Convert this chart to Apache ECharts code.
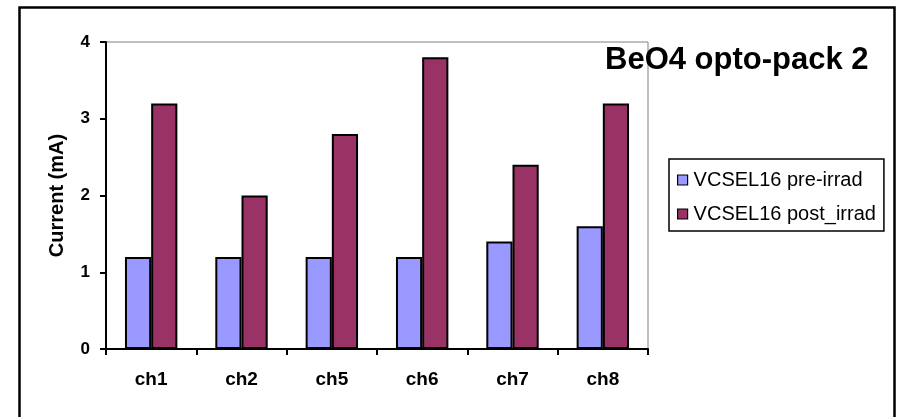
<!DOCTYPE html>
<html>
<head>
<meta charset="utf-8">
<script src="https://cdn.jsdelivr.net/npm/echarts@6/dist/echarts.min.js"></script>
<style>html,body{margin:0;padding:0;background:#fff}#c{width:898px;height:417px}</style>
</head>
<body>
<div id="c"></div>
<script>
const categories = ['ch1', 'ch2', 'ch5', 'ch6', 'ch7', 'ch8'];
const preIrrad = [1.2, 1.2, 1.2, 1.2, 1.4, 1.6];
const postIrrad = [3.2, 2.0, 2.8, 3.8, 2.4, 3.2];
const seriesNames = ['VCSEL16 pre-irrad', 'VCSEL16 post_irrad'];
const yTicks = { min: 0, max: 4, interval: 1 };
const titleText = 'BeO4 opto-pack 2';
const yAxisName = 'Current (mA)';

const FONT = 'Arial, "Liberation Sans", sans-serif';
const chart = echarts.init(document.getElementById('c'), null, { renderer: 'canvas' });
chart.setOption({
  animation: false,
  backgroundColor: '#fff',
  grid: { left: 106, right: 250, top: 42, bottom: 68, show: true, borderColor: '#808080', borderWidth: 1, backgroundColor: 'transparent' },
  legend: {
    orient: 'vertical', left: 669, top: 159,
    padding: [11, 8, 7, 8],
    itemGap: 14, itemWidth: 10, itemHeight: 10,
    borderColor: '#000', borderWidth: 1.5,
    icon: 'rect',
    itemStyle: { borderWidth: 1.2, borderColor: '#000' },
    textStyle: { fontFamily: FONT, fontSize: 20, color: '#000', lineHeight: 20, padding: [0, 0, 0, 1] },
    data: seriesNames
  },
  xAxis: {
    type: 'category', data: categories,
    axisLine: { lineStyle: { color: '#000', width: 2 } },
    axisTick: { show: true, length: 6, lineStyle: { color: '#000', width: 2 } },
    axisLabel: { fontFamily: FONT, fontSize: 19, fontWeight: 'bold', color: '#000', margin: 21 }
  },
  yAxis: {
    type: 'value', min: yTicks.min, max: yTicks.max, interval: yTicks.interval,
    name: yAxisName, nameLocation: 'middle', nameGap: 39,
    nameTextStyle: { fontFamily: FONT, fontSize: 20, fontWeight: 'bold', color: '#000' },
    axisLine: { show: true, lineStyle: { color: '#000', width: 2 } },
    axisTick: { show: true, length: 6, lineStyle: { color: '#000', width: 2 } },
    splitLine: { show: false },
    axisLabel: { fontFamily: FONT, fontSize: 17, fontWeight: 'bold', color: '#000', margin: 16 }
  },
  series: [
    { name: seriesNames[0], type: 'bar', data: preIrrad, barGap: '0%', barCategoryGap: '42%',
      itemStyle: { color: '#9999FF', borderColor: '#000', borderWidth: 2 } },
    { name: seriesNames[1], type: 'bar', data: postIrrad, barGap: '0%', barCategoryGap: '42%',
      itemStyle: { color: '#993366', borderColor: '#000', borderWidth: 2 } }
  ],
  graphic: [
    { type: 'rect', left: 17, top: 5, shape: { width: 875, height: 500 }, style: { fill: 'none', stroke: '#000', lineWidth: 2.5 }, silent: true },
    { type: 'text', x: 605, y: 60, style: { text: titleText, font: 'bold 31px ' + FONT, fill: '#000', textVerticalAlign: 'middle' } }
  ]
});
</script>
</body>
</html>
